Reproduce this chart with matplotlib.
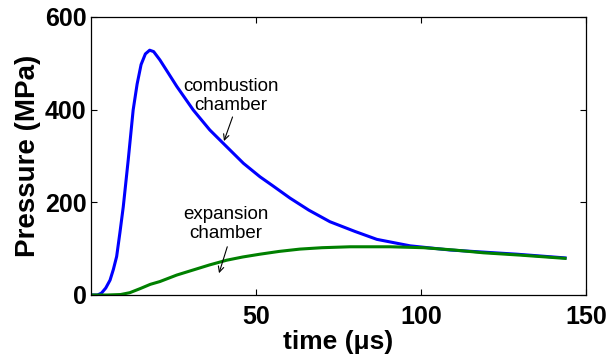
import matplotlib.pyplot as plt

plt.rcParams['font.family'] = ['Liberation Sans', 'DejaVu Sans']

# Тиск у камері згоряння (синя крива)
t_comb = [0, 2, 3.2, 4.5, 5.8, 6.8, 7.8, 8.8, 9.8, 11.3, 12.8, 14, 15.2, 16.5, 17.8, 19,
          20.9, 23.5, 26, 31, 36, 40.1, 46.2, 51.2, 55, 60.3, 66, 72.4, 80, 86.6,
          96.7, 108.8, 120, 129, 143.6]
p_comb = [0, 0, 4, 15, 32, 55, 83, 135, 190, 291, 399, 455, 497, 520, 528, 525,
          507, 478, 450, 399, 356, 327, 284, 255, 236, 209, 183, 158, 137, 120,
          106, 97, 92, 88, 80]

# Тиск у камері розширення (зелена крива)
t_exp = [0, 5, 9, 11.8, 15, 18, 20.9, 26, 31, 36, 41.1, 46, 51.2, 57, 63.3, 70,
         78.5, 90.6, 100.7, 110, 118.9, 130, 143.6]
p_exp = [0, 0, 1, 5, 14, 23, 29, 43, 54, 65, 75, 82, 88, 94, 99, 102,
         104, 104, 102, 97, 91, 86, 79]

x_ticks = [50, 100, 150]
y_ticks = [0, 200, 400, 600]

fig = plt.figure(figsize=(6.1, 3.58), dpi=100)
ax = fig.add_axes([0.149, 0.176, 0.812, 0.777])

ax.plot(t_comb, p_comb, color=(0, 0, 1), lw=2.2)
ax.plot(t_exp, p_exp, color=(0, 0.5, 0), lw=2.2)

# Підписи кривих зі стрілками
ax.text(42.4, 430, 'combustion\nchamber', ha='center', va='center',
        fontsize=13.5, linespacing=1.15)
ax.annotate('', xy=(40.3, 332), xytext=(42.9, 384),
            arrowprops=dict(arrowstyle='->', color='black', lw=0.8,
                            shrinkA=0, shrinkB=0))
ax.text(40.9, 153, 'expansion\nchamber', ha='center', va='center',
        fontsize=13.5, linespacing=1.15)
ax.annotate('', xy=(38.8, 47), xytext=(41.3, 104),
            arrowprops=dict(arrowstyle='->', color='black', lw=0.8,
                            shrinkA=0, shrinkB=0))

ax.set_xlim(0, 150)
ax.set_ylim(0, 600)
ax.set_xticks(x_ticks)
ax.set_yticks(y_ticks)
ax.tick_params(direction='in', length=4, width=0.8, top=True, right=True,
               labelsize=18, pad=3)
ax.tick_params(axis='x', pad=7)
for lab in ax.get_xticklabels() + ax.get_yticklabels():
    lab.set_fontweight('bold')
for s in ax.spines.values():
    s.set_linewidth(0.9)

ax.set_xlabel('time (μs)', fontsize=19, fontweight='bold', labelpad=1)
ax.set_ylabel('Pressure (MPa)', fontsize=20, fontweight='bold', labelpad=3)

fig.savefig('out.png', dpi=100)
